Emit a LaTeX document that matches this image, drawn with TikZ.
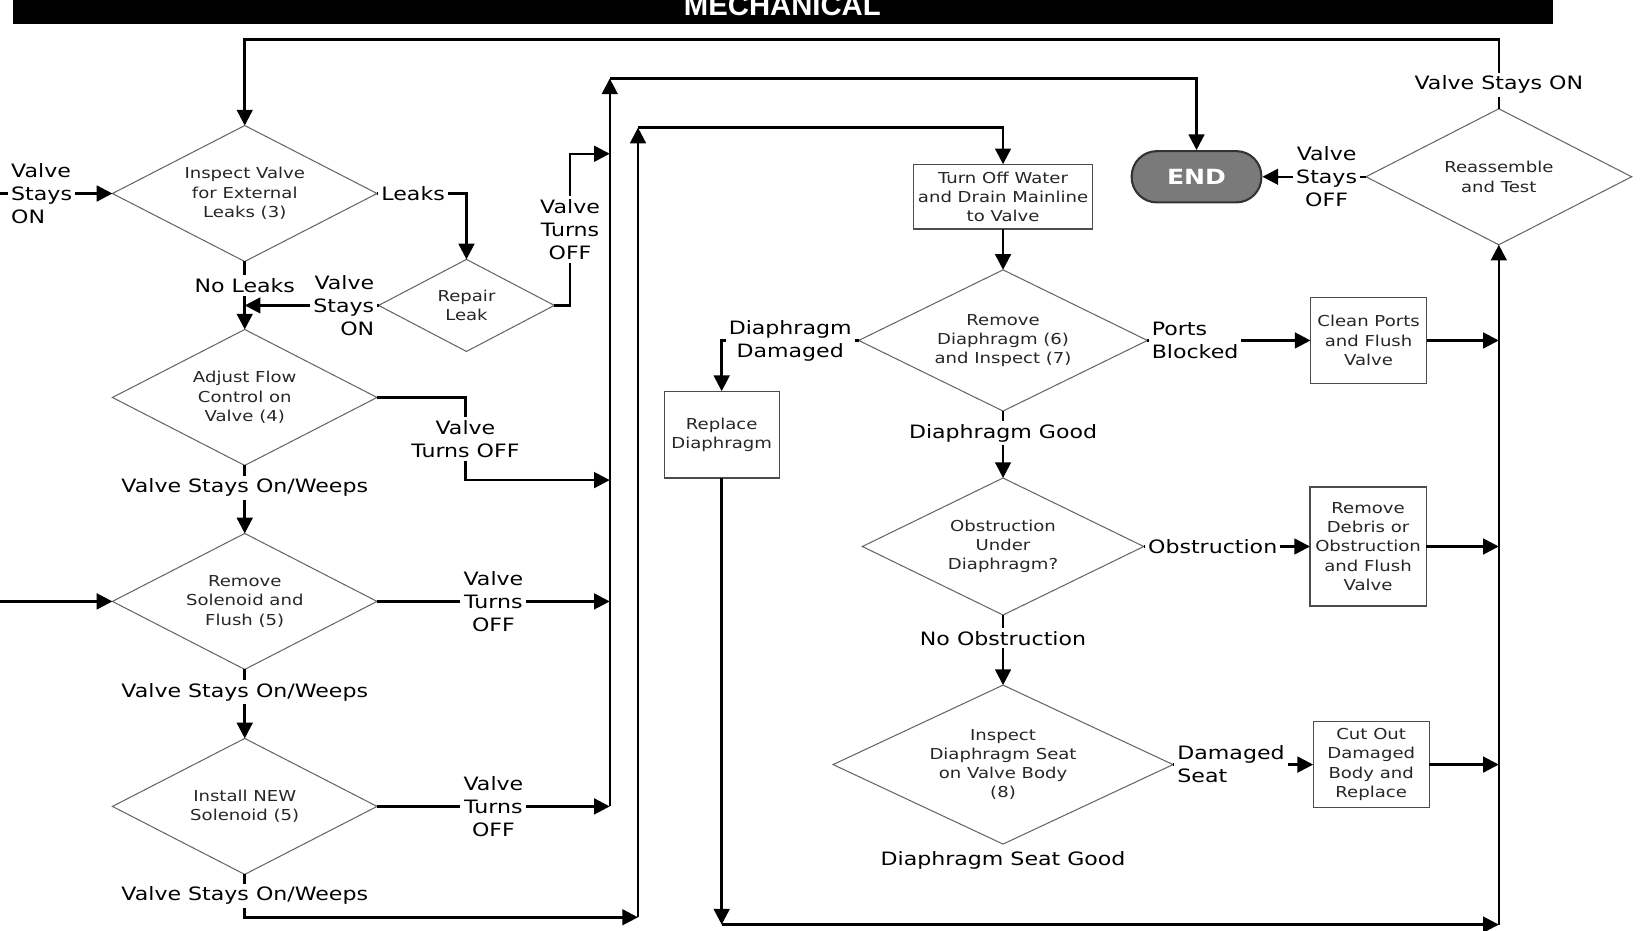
\documentclass[tikz,border=0pt]{standalone}
\usepackage{fontspec}
\setmainfont{DejaVu Sans}[FakeStretch=1.2]
\newfontfamily\titlefont{Liberation Sans}
\usetikzlibrary{arrows.meta,positioning,shapes.geometric}

\begin{document}
\begin{tikzpicture}[x=0.5pt,y=-0.5pt,>={Triangle[length=7.5pt,width=7.5pt]},
  decision/.style={diamond,draw=black!60,line width=0.5pt,aspect=2,inner sep=0pt,outer sep=0pt,align=center,text=black!85,font=\fontsize{7.2}{9.2}\selectfont},
  process/.style={rectangle,draw=black!70,line width=0.6pt,inner sep=1pt,outer sep=0pt,minimum width=55.5pt,align=center,text=black!85,font=\fontsize{7.2}{9.2}\selectfont},
  lbl/.style={fill=white,inner sep=1.5pt,align=center,font=\fontsize{8.8}{11}\selectfont},
  arr/.style={->,line width=1.2pt}]
\useasboundingbox (0,0) rectangle (1568,890);
\fill[black] (12,0) rectangle (1485,23);
\node[anchor=base,text=white,inner sep=0pt,font=\titlefont\bfseries\fontsize{14}{14}\selectfont] (title) at (748,15) {MECHANICAL};

\node[decision,minimum width=126.5pt,minimum height=65pt] (inspect) at (234,185) {Inspect Valve\\for External\\Leaks (3)};
\node[decision,minimum width=126.5pt,minimum height=65pt,below=32.5pt of inspect] (adjust) {Adjust Flow\\Control on\\Valve (4)};
\node[decision,minimum width=126.5pt,minimum height=65pt,below=32.5pt of adjust] (solenoid) {Remove\\Solenoid and\\Flush (5)};
\node[decision,minimum width=126.5pt,minimum height=65pt,below=33pt of solenoid] (install) {Install NEW\\Solenoid (5)};
\node[decision,minimum width=84pt,minimum height=44pt] (repair) at (446,292) {Repair\\Leak};

\node[process,minimum width=85.5pt,minimum height=31pt] (water) at (959,188) {Turn Off Water\\and Drain Mainline\\to Valve};
\node[decision,minimum width=138pt,minimum height=67.5pt,below=19.5pt of water] (diaph) {Remove\\Diaphragm (6)\\and Inspect (7)};
\node[decision,minimum width=134.5pt,minimum height=65.5pt,below=32pt of diaph] (obstr) {Obstruction\\Under\\Diaphragm?};
\node[decision,minimum width=162.5pt,minimum height=76pt,below=33.5pt of obstr] (seat) {Inspect\\Diaphragm Seat\\on Valve Body\\(8)};
\node[process,minimum width=55pt,minimum height=41.5pt] (replace) at (690,415.5) {Replace\\Diaphragm};

\node[process,minimum height=41pt,right=78pt of diaph] (clean) {Clean Ports\\and Flush\\Valve};
\node[process,minimum height=57pt,right=79.5pt of obstr] (debris) {Remove\\Debris or\\Obstruction\\and Flush\\Valve};
\node[process,minimum height=41pt,right=67pt of seat] (cutout) {Cut Out\\Damaged\\Body and\\Replace};
\node[decision,minimum width=127pt,minimum height=65pt] (retest) at (1433,169) {Reassemble\\and Test};
\node[rectangle,rounded corners=12pt,fill=black!52,draw=black!80,line width=1pt,minimum width=62pt,minimum height=24.5pt,text=white,font=\bfseries\fontsize{10}{10}\selectfont] (finish) at (1144,169) {END};
\node[lbl,below=2pt of seat] (seatgood) {Diaphragm Seat Good};

\coordinate (busA) at (583,75);
\coordinate (busB) at (610,122);
\coordinate (busC) at (1433,884);
\coordinate (inA) at (0,185);
\coordinate (inB) at (0,575);
\coordinate (loop) at (0,38);
\coordinate (kinkA) at (545,147);
\coordinate (kinkB) at (445,459);
\coordinate (baseB) at (0,877);

\draw[arr] (inA) -- node[lbl,align=left,pos=0.37] (inlbl) {Valve\\Stays\\ON} (inspect.west);
\draw[arr] (inB) -- (solenoid.west);
\draw[arr] (inspect.south) -- node[lbl,pos=0.35] (noleaks) {No Leaks} (adjust.north);
\draw[arr] (inspect.east) -| node[lbl,anchor=west,pos=0] (leaks) {Leaks} (repair.north);
\draw[arr] (repair.west) -- node[lbl,anchor=east,pos=0,align=right] (repon) {Valve\\Stays\\ON} (repair.west -| inspect.south);
\draw[arr] (repair.east) -| node[lbl,pos=0.75] (repoff) {Valve\\Turns\\OFF} (kinkA) -- (kinkA -| busA);
\draw[arr] (adjust.east) -| node[lbl,pos=0.75] (adjoff) {Valve\\Turns OFF} (kinkB) -- (kinkB -| busA);
\draw[arr] (adjust.south) -- node[lbl,pos=0.33] (adjon) {Valve Stays On/Weeps} (solenoid.north);
\draw[arr] (solenoid.east) -- node[lbl] (soloff) {Valve\\Turns\\OFF} (solenoid.east -| busA);
\draw[arr] (solenoid.south) -- node[lbl,pos=0.33] (solon) {Valve Stays On/Weeps} (install.north);
\draw[arr] (install.east) -- node[lbl] (insoff) {Valve\\Turns\\OFF} (install.east -| busA);
\draw[arr] (install.south) |- node[lbl,pos=0.25] (inson) {Valve Stays On/Weeps} (baseB -| busB);
\draw[arr] (baseB -| busB) -- (busB);
\draw[arr] (busB) -| (water.north);
\draw[arr] (install.east -| busA) -- (busA);
\draw[arr] (busA) -| (finish.north);

\draw[arr] (water.south) -- (diaph.north);
\draw[arr] (diaph.west) -| node[lbl,pos=0.25] (damaged) {Diaphragm\\Damaged} (replace.north);
\draw[arr] (diaph.east) -- node[lbl,anchor=west,pos=0,align=left] (ports) {Ports\\Blocked} (clean.west);
\draw[arr] (diaph.south) -- node[lbl,pos=0.33] (good) {Diaphragm Good} (obstr.north);
\draw[arr] (obstr.east) -- node[lbl,anchor=west,pos=0] (found) {Obstruction} (debris.west);
\draw[arr] (obstr.south) -- node[lbl,pos=0.33] (clear) {No Obstruction} (seat.north);
\draw[arr] (seat.east) -- node[lbl,anchor=west,pos=0,align=left] (badseat) {Damaged\\Seat} (cutout.west);

\draw[arr] (replace.south) -- (replace.south |- busC);
\draw[arr] (replace.south |- busC) -- (busC);
\draw[arr] (busC) -- (retest.south);
\draw[arr] (clean.east) -- (clean.east -| busC);
\draw[arr] (debris.east) -- (debris.east -| busC);
\draw[arr] (cutout.east) -- (cutout.east -| busC);
\draw[arr] (retest.west) -- node[lbl,pos=0.38] (stoff) {Valve\\Stays\\OFF} (finish.east);
\draw[arr] (retest.north) -- node[lbl,pos=0.35] (ston) {Valve Stays ON} (retest.north |- loop) -| (inspect.north);
\end{tikzpicture}
\end{document}
